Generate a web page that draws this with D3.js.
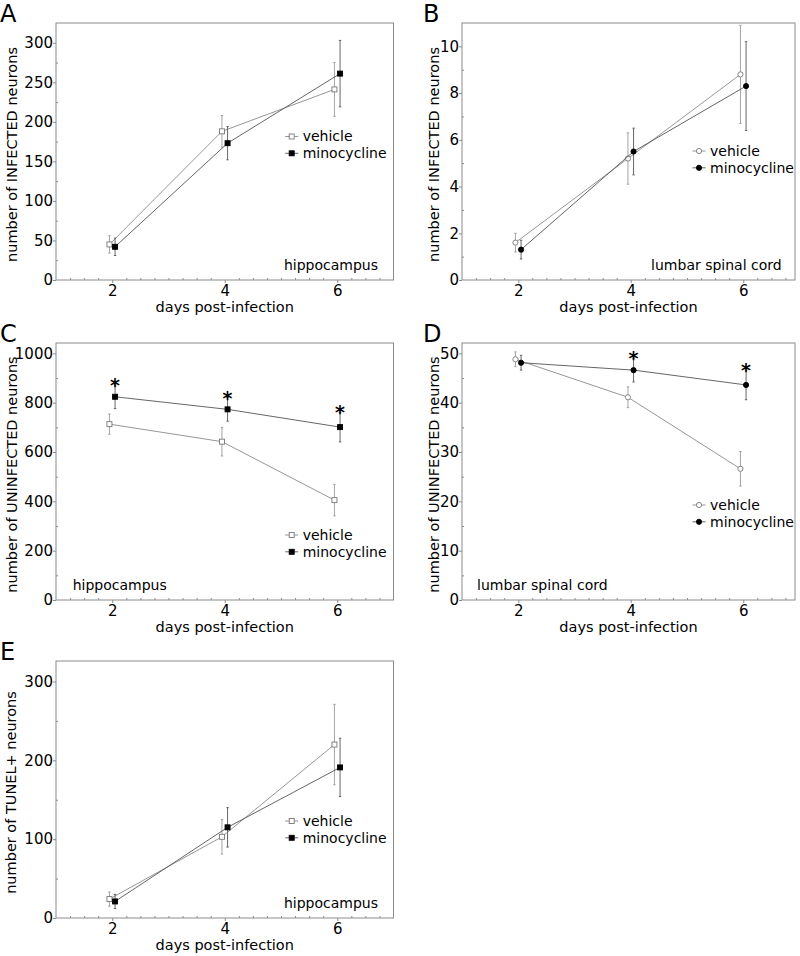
<!DOCTYPE html>
<html>
<head>
<meta charset="utf-8">
<script src="https://cdn.jsdelivr.net/npm/d3@7"></script>
<style>
  body { margin: 0; background: #fff; }
  svg { display: block; font-family: "DejaVu Sans", sans-serif; }
  .tick text { font-family: "DejaVu Sans", sans-serif; font-size: 15px; fill: #000; }
</style>
</head>
<body>
<script>
var days = [2, 4, 6];
var seriesNames = ["vehicle", "minocycline"];

// A: infected neurons, hippocampus
var infHipVehicle = [45, 188, 241], infHipVehicleErr = [11, 20, 34];
var infHipMino = [42, 173, 261], infHipMinoErr = [11, 21, 42];
// B: infected neurons, lumbar spinal cord
var infLscVehicle = [1.6, 5.2, 8.8], infLscVehicleErr = [0.4, 1.1, 2.1];
var infLscMino = [1.3, 5.5, 8.3], infLscMinoErr = [0.4, 1.0, 1.9];
// C: uninfected neurons, hippocampus
var uninfHipVehicle = [713, 642, 405], uninfHipVehicleErr = [41, 58, 64];
var uninfHipMino = [824, 773, 701], uninfHipMinoErr = [48, 48, 60];
var uninfHipSig = [true, true, true];
// D: uninfected neurons, lumbar spinal cord
var uninfLscVehicle = [48.8, 41.1, 26.6], uninfLscVehicleErr = [1.5, 2.1, 3.5];
var uninfLscMino = [48.1, 46.6, 43.6], uninfLscMinoErr = [1.5, 2.4, 3.0];
var uninfLscSig = [false, true, true];
// E: TUNEL+ neurons, hippocampus
var tunelVehicle = [24, 103, 220], tunelVehicleErr = [9, 22, 51];
var tunelMino = [21, 115, 191], tunelMinoErr = [9, 25, 37];

var xTicksMajor = [2, 4, 6];

var panels = [
  {letter: "A", left: 56, top: 23, right: 393.5, bottom: 280, xMax: 7, yMax: 325,
   yTicks: [0, 50, 100, 150, 200, 250, 300], yMinor: 25, yTitle: "number of INFECTED neurons", titleX: 16.5,
   region: "hippocampus", regionAnchor: "end", regionX: 378, regionY: 270,
   legendX: 291.7, legendY: 136.5, shape: "square",
   vehicle: infHipVehicle, vehicleErr: infHipVehicleErr, mino: infHipMino, minoErr: infHipMinoErr, sig: null},
  {letter: "B", left: 462, top: 23, right: 795, bottom: 280, xMax: 6.92, yMax: 11,
   yTicks: [0, 2, 4, 6, 8, 10], yMinor: 1, yTitle: "number of INFECTED neurons", titleX: 439,
   region: "lumbar spinal cord", regionAnchor: "end", regionX: 781.7, regionY: 270,
   legendX: 699, legendY: 151, shape: "circle",
   vehicle: infLscVehicle, vehicleErr: infLscVehicleErr, mino: infLscMino, minoErr: infLscMinoErr, sig: null},
  {letter: "C", left: 56, top: 343, right: 393.5, bottom: 600, xMax: 7, yMax: 1042,
   yTicks: [0, 200, 400, 600, 800, 1000], yMinor: 100, yTitle: "number of UNINFECTED neurons", titleX: 16.5,
   region: "hippocampus", regionAnchor: "start", regionX: 72.7, regionY: 590,
   legendX: 291.7, legendY: 535, shape: "square",
   vehicle: uninfHipVehicle, vehicleErr: uninfHipVehicleErr, mino: uninfHipMino, minoErr: uninfHipMinoErr, sig: uninfHipSig},
  {letter: "D", left: 462, top: 343, right: 795, bottom: 600, xMax: 6.92, yMax: 52.1,
   yTicks: [0, 10, 20, 30, 40, 50], yMinor: 5, yTitle: "number of UNINFECTED neurons", titleX: 439,
   region: "lumbar spinal cord", regionAnchor: "start", regionX: 477, regionY: 590,
   legendX: 699, legendY: 505, shape: "circle",
   vehicle: uninfLscVehicle, vehicleErr: uninfLscVehicleErr, mino: uninfLscMino, minoErr: uninfLscMinoErr, sig: uninfLscSig},
  {letter: "E", left: 56, top: 661, right: 393.5, bottom: 918, xMax: 7, yMax: 326,
   yTicks: [0, 100, 200, 300], yMinor: 50, yTitle: "number of TUNEL+ neurons", titleX: 15.5,
   region: "hippocampus", regionAnchor: "end", regionX: 378, regionY: 908,
   legendX: 291.7, legendY: 821, shape: "square",
   vehicle: tunelVehicle, vehicleErr: tunelVehicleErr, mino: tunelMino, minoErr: tunelMinoErr, sig: null}
];

var vehicleColor = "#8a8a8a", minoColor = "#555", frameColor = "#8c8c8c";

var svg = d3.select("body").append("svg")
  .attr("width", 800)
  .attr("height", 956);

panels.forEach(function(p) { drawPanel(p); });

function drawMarker(g, shape, cx, cy, filled) {
  if (shape === "square") {
    g.append("rect")
      .attr("x", cx - 2.5).attr("y", cy - 2.5)
      .attr("width", 5).attr("height", 5)
      .attr("fill", filled ? "#000" : "#fff")
      .attr("stroke", filled ? "#000" : "#777")
      .attr("stroke-width", 0.9);
  } else {
    g.append("circle")
      .attr("cx", cx).attr("cy", cy).attr("r", 2.6)
      .attr("fill", filled ? "#000" : "#fff")
      .attr("stroke", filled ? "#000" : "#777")
      .attr("stroke-width", 0.9);
  }
}

function styleAxis(a) {
  a.attr("font-family", null).attr("font-size", null);
  a.select(".domain").remove();
  a.selectAll("line").attr("stroke", frameColor);
}

function drawPanel(p) {
  var w = p.right - p.left, h = p.bottom - p.top;
  var x = d3.scaleLinear().domain([1, p.xMax]).range([0, w]);
  var y = d3.scaleLinear().domain([0, p.yMax]).range([h, 0]);

  svg.append("text")
    .attr("x", p.left < 100 ? 0 : 423)
    .attr("y", p.top - 1)
    .style("font-size", "24px")
    .text(p.letter);

  var g = svg.append("g").attr("transform", "translate(" + p.left + "," + p.top + ")");

  // minor ticks (inside)
  var xMinor = d3.range(1.25, p.xMax, 0.25).filter(function(d) { return xTicksMajor.indexOf(d) < 0; });
  g.append("g")
    .attr("transform", "translate(0," + h + ")")
    .call(d3.axisBottom(x).tickValues(xMinor).tickSize(-2).tickFormat(""))
    .call(styleAxis);
  var yMinor = d3.range(p.yMinor, p.yMax, p.yMinor * 2);
  g.append("g")
    .call(d3.axisLeft(y).tickValues(yMinor).tickSize(-2).tickFormat(""))
    .call(styleAxis);

  // major ticks
  g.append("g")
    .attr("transform", "translate(0," + h + ")")
    .call(d3.axisBottom(x).tickValues(xTicksMajor).tickSize(3).tickPadding(2).tickFormat(d3.format("d")))
    .call(styleAxis);
  g.append("g")
    .call(d3.axisLeft(y).tickValues(p.yTicks).tickSize(3).tickPadding(0).tickFormat(d3.format("d")))
    .call(styleAxis);

  g.append("rect")
    .attr("width", w).attr("height", h)
    .attr("fill", "none")
    .attr("stroke", frameColor)
    .attr("stroke-width", 1);

  // axis titles
  svg.append("text")
    .attr("text-anchor", "middle")
    .attr("x", p.left + w / 2)
    .attr("y", p.bottom + 32)
    .style("font-size", "14.5px")
    .text("days post-infection");
  svg.append("text")
    .attr("text-anchor", "middle")
    .attr("transform", "translate(" + p.titleX + "," + (p.top + h / 2 + 3) + ")rotate(-90)")
    .style("font-size", "14.5px")
    .text(p.yTitle);

  // region label
  g.append("text")
    .attr("text-anchor", p.regionAnchor)
    .attr("x", p.regionX - p.left)
    .attr("y", p.regionY - p.top)
    .style("font-size", "14px")
    .text(p.region);

  var groups = [
    {vals: p.vehicle, errs: p.vehicleErr, off: -0.05, line: vehicleColor, bar: "#9a9a9a", filled: false},
    {vals: p.mino, errs: p.minoErr, off: 0.05, line: minoColor, bar: "#555", filled: true}
  ];

  groups.forEach(function(s) {
    var pts = days.map(function(d, i) { return {x: d + s.off, v: s.vals[i], e: s.errs[i]}; });
    g.append("path")
      .datum(pts)
      .attr("fill", "none")
      .attr("stroke", s.line)
      .attr("stroke-width", 0.9)
      .attr("d", d3.line().x(function(d) { return x(d.x); }).y(function(d) { return y(d.v); }));
    pts.forEach(function(d) {
      var cx = x(d.x);
      g.append("line")
        .attr("x1", cx).attr("x2", cx)
        .attr("y1", y(d.v + d.e)).attr("y2", y(d.v - d.e))
        .attr("stroke", s.bar).attr("stroke-width", 0.9);
      [d.v + d.e, d.v - d.e].forEach(function(v) {
        g.append("line")
          .attr("x1", cx - 1.2).attr("x2", cx + 1.2)
          .attr("y1", y(v)).attr("y2", y(v))
          .attr("stroke", s.bar).attr("stroke-width", 0.9);
      });
      drawMarker(g, p.shape, cx, y(d.v), s.filled);
    });
  });

  // significance asterisks over minocycline
  if (p.sig) {
    days.forEach(function(d, i) {
      if (!p.sig[i]) return;
      g.append("text")
        .attr("text-anchor", "middle")
        .attr("x", x(d + 0.05))
        .attr("y", y(p.mino[i] + p.minoErr[i]) + 7)
        .attr("fill", "#000")
        .style("font-size", "19px")
        .style("font-weight", "bold")
        .text("*");
    });
  }

  // legend
  seriesNames.forEach(function(name, i) {
    var ly = p.legendY + i * 16.8;
    var lg = svg.append("g");
    lg.append("line")
      .attr("x1", p.legendX - 6.5).attr("x2", p.legendX + 6.5)
      .attr("y1", ly).attr("y2", ly)
      .attr("stroke", i === 0 ? vehicleColor : minoColor).attr("stroke-width", 0.9);
    drawMarker(lg, p.shape, p.legendX, ly, i === 1);
    lg.append("text")
      .attr("x", p.legendX + 11)
      .attr("y", ly)
      .attr("dy", "0.35em")
      .style("font-size", "14px")
      .text(name);
  });
}
</script>
</body>
</html>
